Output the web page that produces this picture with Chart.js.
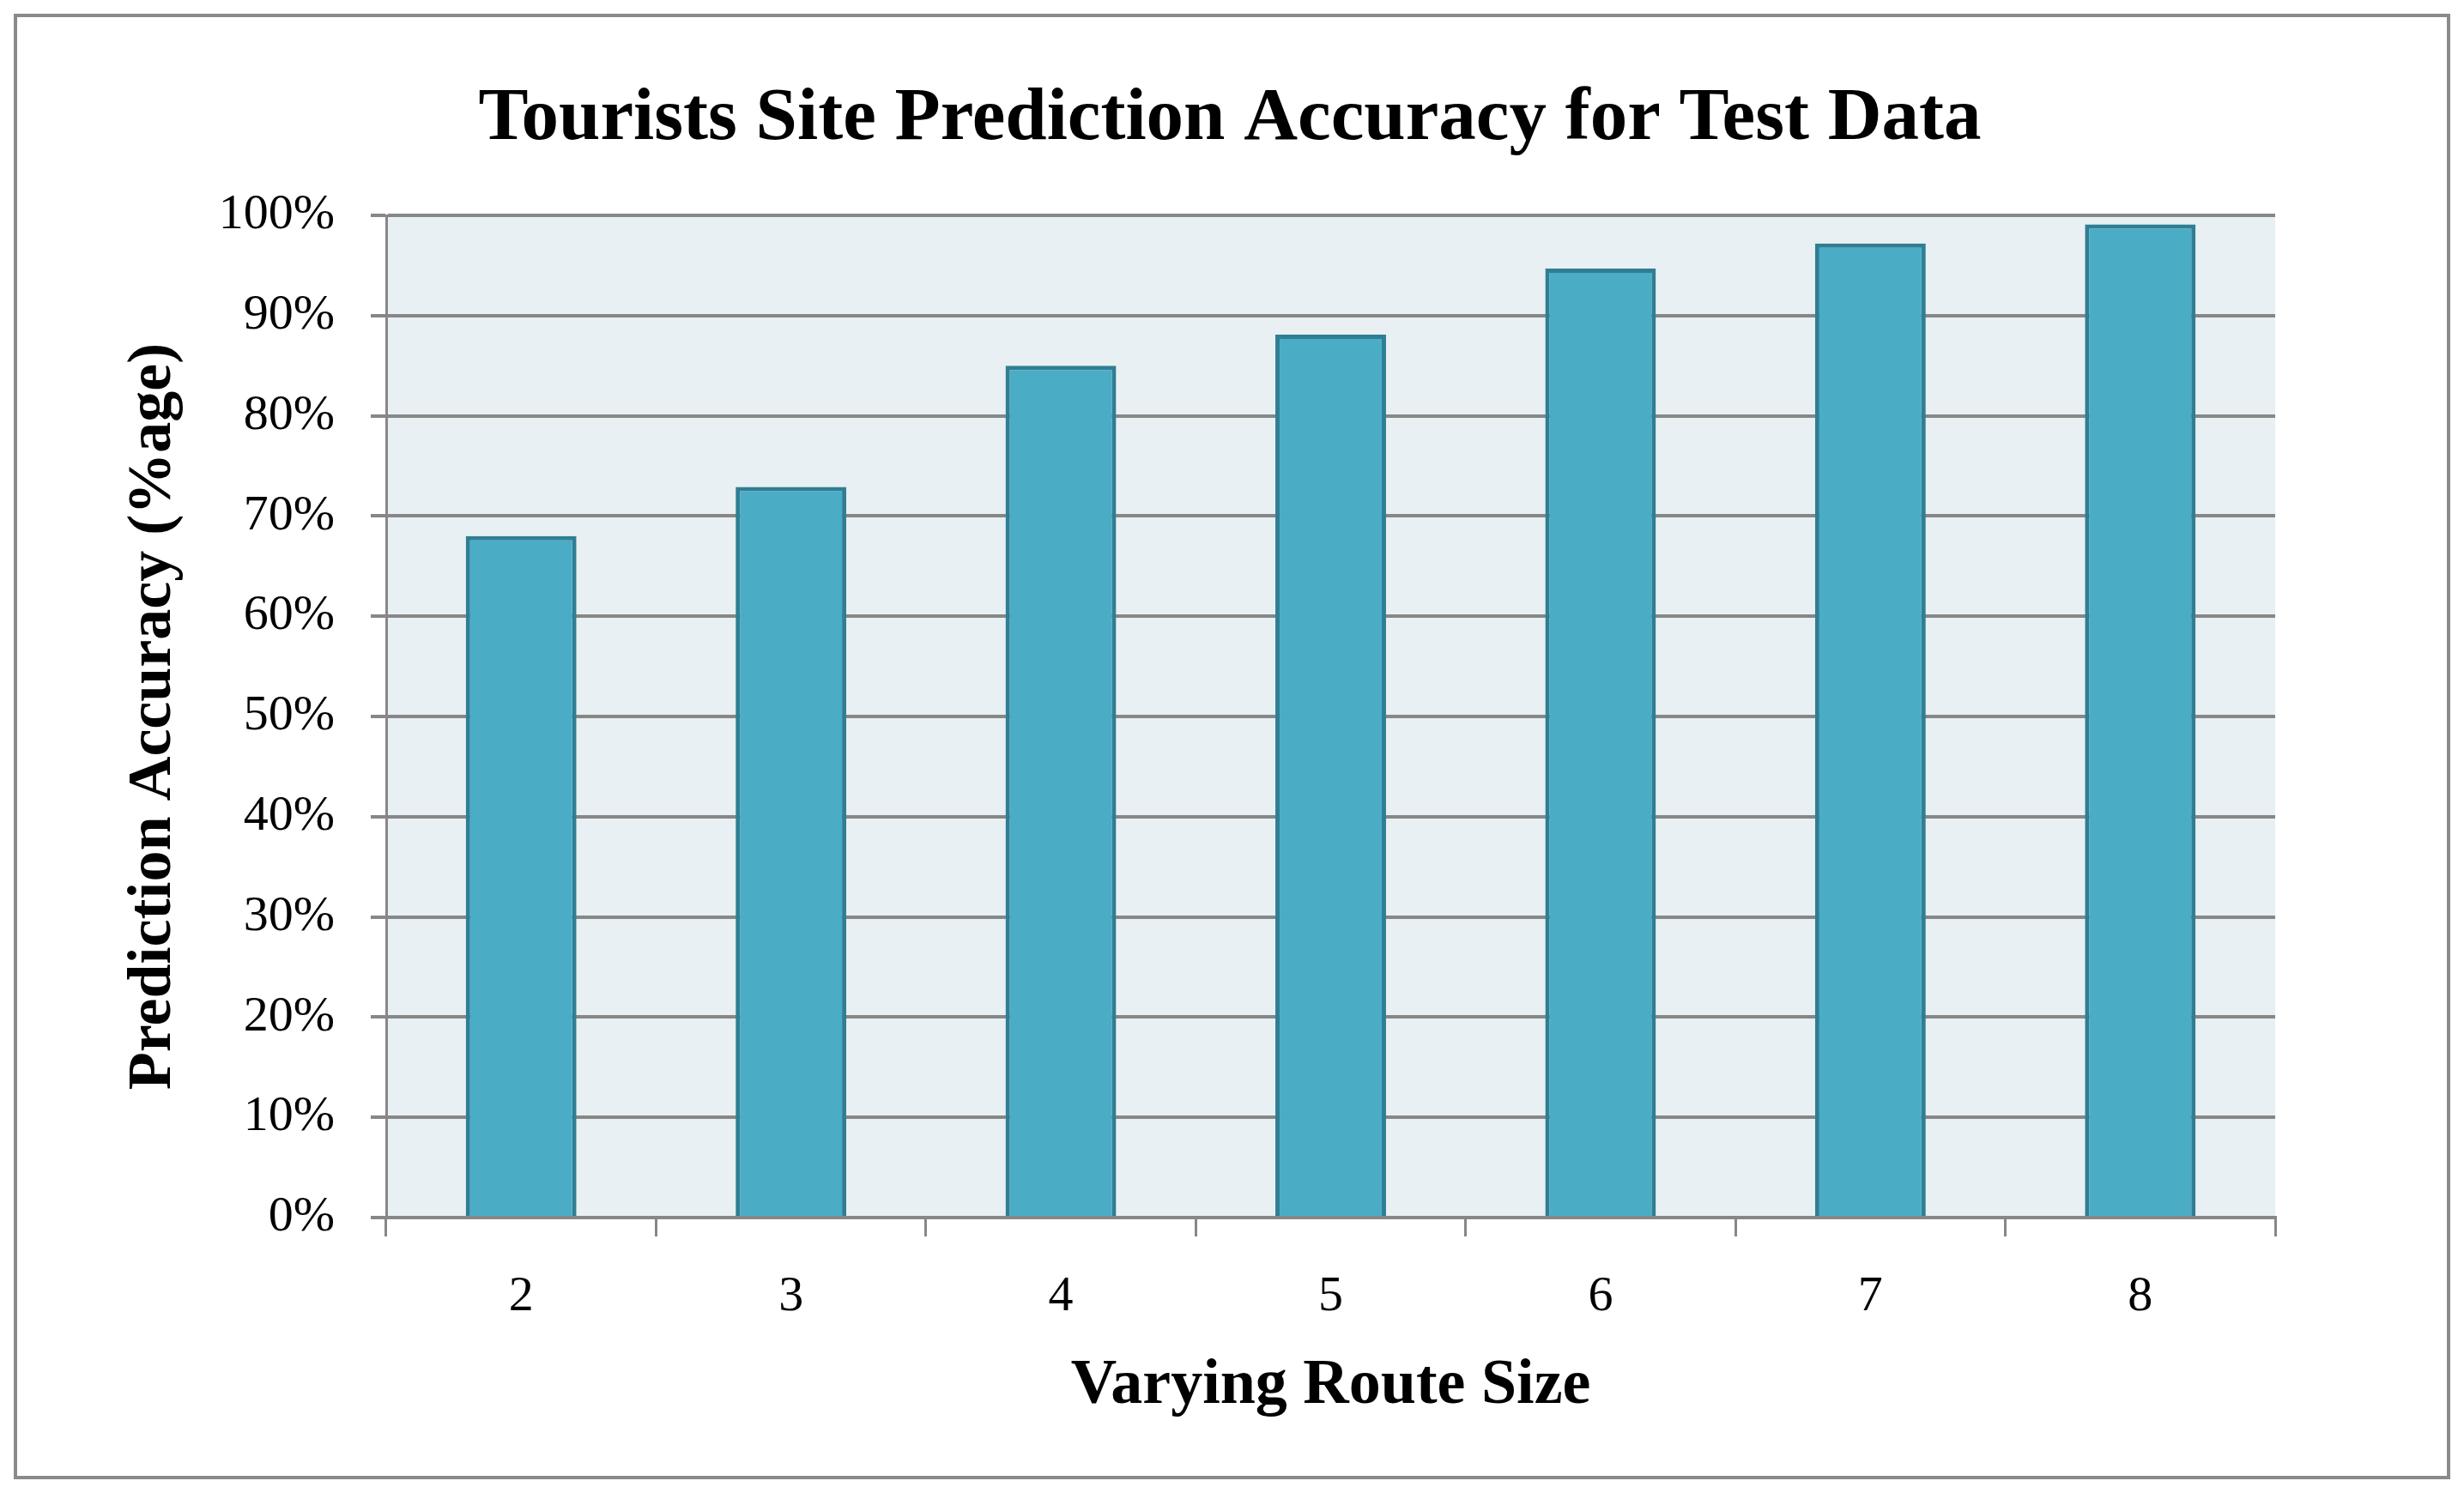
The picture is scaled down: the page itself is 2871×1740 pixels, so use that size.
<!DOCTYPE html>
<html><head><meta charset="utf-8">
<script src="https://cdn.jsdelivr.net/npm/chart.js@4"></script>
<style>html,body{margin:0;padding:0;background:#fff}#w{width:2871px;height:1740px}</style>
</head><body><div id="w"><canvas id="c"></canvas></div>
<script>
const categories = ['2','3','4','5','6','7','8'];
const accuracy = [68, 72.9, 85, 88.1, 94.7, 97.2, 99.1];
const titleText = 'Tourists Site Prediction Accuracy for Test Data';
const xTitle = 'Varying Route Size';
const yTitle = 'Prediction Accuracy (%age)';
const serif = '"Liberation Serif", "DejaVu Serif", serif';

const deco = {
  id: 'deco',
  beforeDraw(chart) {
    const {ctx, chartArea: a} = chart;
    ctx.save();
    ctx.fillStyle = '#fff';
    ctx.fillRect(0, 0, chart.width, chart.height);
    ctx.strokeStyle = '#8a8a8a'; ctx.lineWidth = 4;
    ctx.strokeRect(18, 18, chart.width - 36, chart.height - 36);
    ctx.fillStyle = '#E8F0F3';
    ctx.fillRect(a.left, a.top, a.right - a.left, a.bottom - a.top);
    ctx.fillStyle = '#000';
    ctx.font = 'bold 87px ' + serif;
    ctx.textAlign = 'center'; ctx.textBaseline = 'middle';
    ctx.fillText(titleText, 1433, 140);
    ctx.restore();
  }
};

new Chart(document.getElementById('c'), {
  type: 'bar',
  data: { labels: categories, datasets: [{ data: accuracy, backgroundColor: '#4BACC6', borderColor: '#2F7E93', borderWidth: 5, barPercentage: 0.41, categoryPercentage: 1 }] },
  options: {
    responsive: true, maintainAspectRatio: false, animation: false,
    devicePixelRatio: 1,
    layout: { padding: { top: 251, right: 220, left: 0, bottom: 0 } },
    plugins: { legend: { display: false }, tooltip: { enabled: false } },
    scales: {
      x: {
        afterFit(s) { s.height = 321; },
        grid: { drawOnChartArea: false, drawTicks: true, tickLength: 22, offset: true, color: '#878787', lineWidth: 3 },
        border: { color: '#878787', width: 4 },
        ticks: { color: '#000', font: { family: serif, size: 58 }, padding: 36 },
        title: { display: true, text: xTitle, color: '#000', font: { family: serif, size: 74, weight: 'bold' }, padding: { top: 50, bottom: 80 } }
      },
      y: {
        min: 0, max: 100,
        afterFit(s) { s.width = 450; },
        grid: { color: '#878787', lineWidth: 4, tickLength: 18 },
        border: { color: '#878787', width: 3 },
        ticks: { stepSize: 10, color: '#000', font: { family: serif, size: 58 }, padding: 42,
          callback: v => v + '%' },
        title: { display: true, text: yTitle, color: '#000', font: { family: serif, size: 72, weight: 'bold' }, padding: { top: 136, bottom: 0 } }
      }
    }
  },
  plugins: [deco]
});
</script>
</body></html>
